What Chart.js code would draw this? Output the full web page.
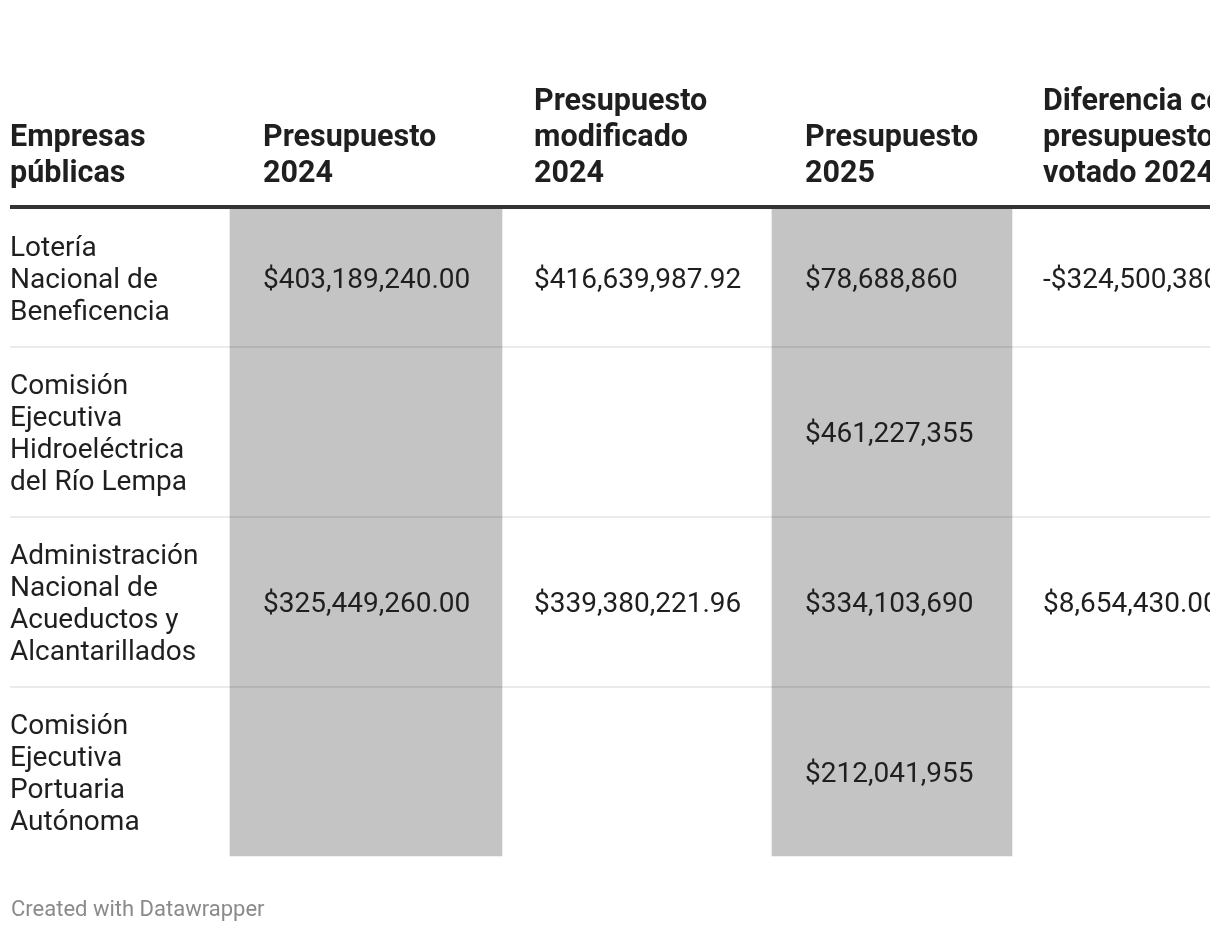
<!DOCTYPE html>
<html lang="es">
<head>
<meta charset="utf-8">
<title>Empresas públicas</title>
<script src="https://cdn.jsdelivr.net/npm/chart.js@4.4.1/dist/chart.umd.min.js"></script>
<style>
  html, body { margin: 0; padding: 0; background: #fff; }
  canvas { display: block; }
</style>
</head>
<body>
<canvas id="table" width="1220" height="932"></canvas>
<script>
// column headers, one entry per printed line
const headers = [
  ['Empresas', 'públicas'],
  ['Presupuesto', '2024'],
  ['Presupuesto', 'modificado', '2024'],
  ['Presupuesto', '2025'],
  ['Diferencia con', 'presupuesto', 'votado 2024']
];
const empresas = [
  ['Lotería', 'Nacional de', 'Beneficencia'],
  ['Comisión', 'Ejecutiva', 'Hidroeléctrica', 'del Río Lempa'],
  ['Administración', 'Nacional de', 'Acueductos y', 'Alcantarillados'],
  ['Comisión', 'Ejecutiva', 'Portuaria', 'Autónoma']
];
const presupuesto2024 = [403189240.00, null, 325449260.00, null];
const modificado2024 = [416639987.92, null, 339380221.96, null];
const presupuesto2025 = [78688860, 461227355, 334103690, 212041955];
const diferencia2024 = [-324500380.00, null, 8654430.00, null];
const footer = 'Created with Datawrapper';

// layout (pixels)
const W = 1220, H = 932;
const colEdges = [0, 230, 502, 772, 1012, 1210];
const colPad = [10, 33, 32, 33, 31];
const shaded = [1, 3];
const decimals = [2, 2, 0, 2];
const headBaseline = 182, headLine = 36;
const ruleY = 207;
const bodyTop = 209, rowPad = 21, lineH = 32;
const bodyFont = '28px Roboto', headFont = 'bold 30.5px Roboto', footFont = '22px Roboto';
const ink = '#1f1f1f';

const columns = [presupuesto2024, modificado2024, presupuesto2025, diferencia2024];

// row boundaries from number of lines in each name
const rowTops = [];
let acc = bodyTop;
empresas.forEach(name => {
  rowTops.push(acc);
  acc += name.length * lineH + rowPad * 2;
});
const bodyBottom = acc - 1;

function money(v, d) {
  const s = Math.abs(v).toLocaleString('en-US', {minimumFractionDigits: d, maximumFractionDigits: d});
  return (v < 0 ? '-$' : '$') + s;
}

const tablePlugin = {
  id: 'tableCells',
  afterDatasetsDraw(chart) {
    const {ctx, scales: {x, y}} = chart;
    const left = x.getPixelForValue(10);
    const right = x.getPixelForValue(colEdges[colEdges.length - 1]);
    ctx.save();
    ctx.beginPath();
    ctx.rect(0, 0, right, H);
    ctx.clip();

    // row separators
    ctx.fillStyle = 'rgba(0,0,0,0.08)';
    rowTops.slice(1).forEach(t => {
      ctx.fillRect(left, y.getPixelForValue(t) - 1, right - left, 2);
    });
    // header rule
    ctx.fillStyle = '#333';
    ctx.fillRect(left, y.getPixelForValue(ruleY) - 2, right - left, 4);

    ctx.textBaseline = 'alphabetic';
    ctx.textAlign = 'left';
    ctx.fillStyle = ink;

    // headers, bottom aligned
    ctx.font = headFont;
    headers.forEach((lines, c) => {
      const tx = x.getPixelForValue(colEdges[c] + colPad[c]);
      lines.forEach((line, i) => {
        const by = headBaseline - (lines.length - 1 - i) * headLine;
        ctx.fillText(line, tx, y.getPixelForValue(by));
      });
    });

    // body
    ctx.font = bodyFont;
    empresas.forEach((lines, r) => {
      const top = rowTops[r];
      const h = lines.length * lineH + rowPad * 2;
      const tx = x.getPixelForValue(colEdges[0] + colPad[0]);
      lines.forEach((line, i) => {
        const cy = top + rowPad + lineH / 2 + i * lineH;
        ctx.fillText(line, tx, y.getPixelForValue(cy + 10));
      });
      columns.forEach((vals, c) => {
        const v = vals[r];
        if (v === null) return;
        const vx = x.getPixelForValue(colEdges[c + 1] + colPad[c + 1]);
        ctx.fillText(money(v, decimals[c]), vx, y.getPixelForValue(top + h / 2 + 10));
      });
    });
    ctx.restore();

    // footer
    ctx.font = footFont;
    ctx.fillStyle = '#8a8a8a';
    ctx.fillText(footer, x.getPixelForValue(11), y.getPixelForValue(916));
  }
};

function draw() {
  new Chart(document.getElementById('table'), {
    type: 'bar',
    data: {
      datasets: [{
        // grey background for the shaded budget columns
        data: shaded.map(c => ({y: (bodyTop + bodyBottom) / 2, x: [colEdges[c], colEdges[c + 1]]})),
        backgroundColor: '#c4c4c4',
        borderWidth: 0,
        barThickness: bodyBottom - bodyTop
      }]
    },
    options: {
      indexAxis: 'y',
      responsive: false,
      animation: false,
      events: [],
      layout: {padding: 0},
      plugins: {legend: {display: false}, tooltip: {enabled: false}},
      scales: {
        x: {type: 'linear', min: 0, max: W, offset: false, display: false},
        y: {type: 'linear', min: 0, max: H, reverse: true, offset: false, display: false}
      }
    },
    plugins: [tablePlugin]
  });
}

Promise.all([
  document.fonts.load(bodyFont),
  document.fonts.load(headFont),
  document.fonts.load(footFont)
]).then(draw, draw);
</script>
</body>
</html>
